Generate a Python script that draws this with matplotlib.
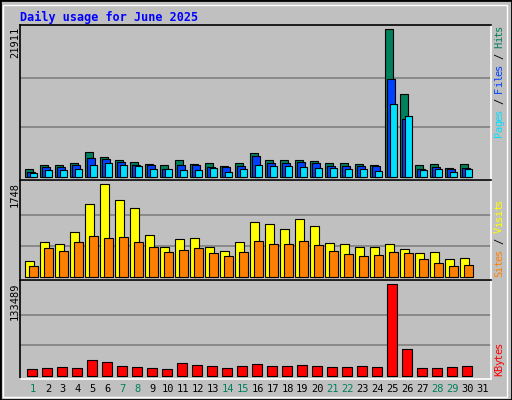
import matplotlib
matplotlib.use("Agg")
import matplotlib.pyplot as plt
from matplotlib.patches import Rectangle

days = list(range(1, 32))
weekends = [1, 7, 8, 14, 15, 21, 22, 28, 29]
hits = [1091,1735,1735,1983,3619,2875,2429,2132,1834,1685,2429,1834,1983,1537,1983,3470,2429,2429,2429,2280,1983,1983,1834,1685,21911,12244,1685,1834,1239,1834]
files = [744,1388,1388,1685,2726,2578,2132,1685,1685,1091,1685,1685,1388,1388,1537,3024,1983,1983,2132,1983,1537,1537,1537,1537,14475,8576,1091,1388,1091,1239]
pages = [496,942,942,1091,1685,1983,1685,1537,1091,1091,942,942,1239,644,1091,1685,1537,1537,1388,1239,1239,1091,1091,793,10757,8972,942,1091,644,1091]
visits = [290,650,612,839,1369,1748,1445,1294,782,555,707,726,555,480,650,1029,991,896,1085,953,631,612,555,555,612,517,442,461,328,347]
sites = [196,536,480,650,764,726,745,650,555,461,498,536,442,385,461,669,612,612,669,593,480,423,385,404,461,442,328,252,196,215]
kbytes = [9257,10718,12180,10718,22411,19488,13642,12180,10718,9257,18027,15103,13642,10718,13642,16565,13642,13642,15103,13642,12180,12180,13642,12180,133489,38490,10718,10718,12180,13642]

W, H = 512, 400
fig = plt.figure(figsize=(W/100, H/100), dpi=100, facecolor="#C0C0C0")
fig.patches.append(Rectangle((0, 0), 1, 1, transform=fig.transFigure, fill=False, edgecolor="black", lw=2))
fig.patches.append(Rectangle((3/W, 3/H), (W-8)/W, (H-8)/H, transform=fig.transFigure, fill=False, edgecolor="white", lw=1))
MONO = "DejaVu Sans Mono"

def ax_at(x0, y0, x1, y1):
    return fig.add_axes([x0/W, 1-y1/H, (x1-x0)/W, (y1-y0)/H])

def style(ax, ymin, ymax, grid):
    ax.set_facecolor("#C0C0C0")
    ax.set_xlim(0.13, 31.53)
    ax.set_ylim(ymin, ymax)
    ax.set_xticks([]); ax.set_yticks([])
    for g in grid:
        ax.axhline(g, color="#808080", lw=1.2, zorder=0)
    for s in ["top", "left"]:
        ax.spines[s].set_color("black")
    for s in ["right", "bottom"]:
        ax.spines[s].set_color("white")
    for s in ax.spines.values():
        s.set_linewidth(1.2)

d = days[:30]
ek = dict(edgecolor="black", linewidth=0.8)

ax1 = ax_at(20, 25, 491, 180)
style(ax1, -490, 22500, [21911/3, 2*21911/3])
ax1.bar([x-0.27 for x in d], hits, width=0.5, color="#00805C", **ek)
ax1.bar([x-0.13 for x in d], files, width=0.5, color="#0040FF", **ek)
ax1.bar([x+0.02 for x in d], pages, width=0.5, color="#00E0FF", **ek)

ax2 = ax_at(20, 180, 491, 280)
style(ax2, -62, 1831, [1748/3, 2*1748/3])
ax2.bar([x-0.25 for x in d], visits, width=0.58, color="#FFFF00", **ek)
ax2.bar(d, sites, width=0.6, color="#FF8000", **ek)

ax3 = ax_at(20, 280, 491, 379)
style(ax3, -4825, 139920, [133489/3, 2*133489/3])
ax3.bar([x-0.1 for x in d], kbytes, width=0.67, color="#FF0000", **ek)

fig.text(20/W, 1-17/H, "Daily usage for June 2025", color="#0000FF", family=MONO,
         fontweight="bold", fontsize=8.5, va="center", ha="left")

for val, ytop in [("21911", 27), ("1748", 182), ("133489", 282)]:
    fig.text(15/W, 1-ytop/H, val, rotation=90, family=MONO, fontsize=7.5,
             ha="center", va="top", color="black")

def vlabel(parts, ybottom):
    y = ybottom
    step = 5.6
    for txt, col in parts:
        for ch in txt:
            if ch != " ":
                fig.text(499/W, 1-(y-step/2)/H, ch, rotation=90, family=MONO, fontsize=7.5,
                         color=col, ha="center", va="center")
            y -= step

vlabel([("Pages", "#00E0FF"), (" / ", "#000000"), ("Files", "#0040FF"), (" / ", "#000000"), ("Hits", "#00805C")], 137)
vlabel([("Sites", "#FF8000"), (" / ", "#000000"), ("Visits", "#FFFF00")], 277)
vlabel([("KBytes", "#FF0000")], 376)

for dd in days:
    x = 33 + 14.97*(dd-1)
    fig.text(x/W, 1-389/H, str(dd), family=MONO, fontsize=7.5, ha="center", va="center",
             color="#00805C" if dd in weekends else "black")

fig.savefig("out.png", dpi=100, facecolor=fig.get_facecolor())
